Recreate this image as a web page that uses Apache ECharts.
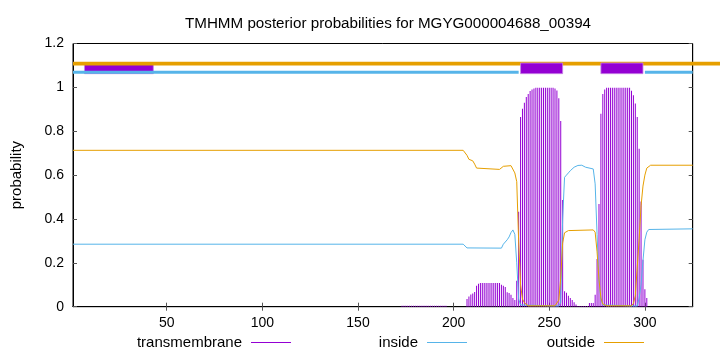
<!DOCTYPE html>
<html><head><meta charset="utf-8">
<script src="https://cdn.jsdelivr.net/npm/echarts@6/dist/echarts.min.js"></script>
<style>html,body{margin:0;padding:0;background:#fff}#c{width:720px;height:352px}</style>
</head><body><div id="c"></div>
<script>
// ---- data ----
const titleText = 'TMHMM posterior probabilities for MGYG000004688_00394';
const xTicks = [50, 100, 150, 200, 250, 300];
const seqStart = 1, seqEnd = 325;

// transmembrane posterior (impulses), one value per residue starting at tmStart
const tmStart = 173;
const tmValues = [
  0.004,0.004,0.004,0.004,0.004,0.004,0.004,0.004,0.004,0.004,0.004,0.004,
  0.004,0.004,0.004,0.004,0.004,0.004,0.004,0.004,0.004,0.004,0.004,0.004,
  0,0,0,0,0,0,0,0,0,0,
  0.035,0.047,0.056,0.06,0.067,0.095,0.105,
  0.108,0.108,0.108,0.108,0.108,0.108,0.108,0.108,0.108,0.108,0.108,
  0.1,0.095,0.09,0.066,0.062,0.055,0.04,0.03,0.118,
  0.433,0.865,0.903,0.93,0.956,0.97,0.983,0.99,0.995,
  0.998,0.998,0.998,0.998,0.998,0.998,0.998,0.998,0.998,0.998,
  0.995,0.986,0.95,0.847,0.486,0.07,0.064,0.05,0.04,0.03,0.02,0.01,
  0.003,0.003,0.003,0.003,0.003,0.003,
  0.017,0.017,0.017,0.055,0.217,0.468,0.88,0.97,0.99,
  0.998,0.998,0.998,0.998,0.998,0.998,0.998,0.998,0.998,0.998,0.998,0.998,0.998,
  0.985,0.964,0.926,0.865,0.72,0.48,0.214,0.08,0.04
];

// inside posterior (line breakpoints [residue, p])
const insideCurve = [
  [1,0.285],[205,0.285],[206,0.279],[207,0.268],[208,0.267],[225,0.267],[226,0.285],
  [227,0.292],[228,0.305],[229,0.318],[230,0.338],[231,0.35],[232,0.33],[233,0.2],
  [234,0.035],[235,0.008],[236,0.003],[255,0.003],[256,0.02],[257,0.4],[258,0.59],
  [259,0.6],[260,0.61],[261,0.62],[262,0.628],[263,0.636],[264,0.641],[265,0.644],
  [267,0.645],[268,0.642],[269,0.636],[270,0.633],[273,0.628],[274,0.56],[275,0.33],
  [276,0.12],[277,0.035],[278,0.008],[279,0.003],[296,0.003],[297,0.04],[298,0.1],
  [299,0.21],[300,0.305],[301,0.34],[302,0.352],[303,0.355],[325,0.355]
];

// outside posterior (line breakpoints [residue, p])
const outsideCurve = [
  [1,0.713],[205,0.713],[206,0.708],[207,0.69],[208,0.672],[209,0.668],[210,0.665],
  [211,0.65],[212,0.632],[213,0.626],[224,0.626],[225,0.632],[226,0.64],[227,0.643],
  [230,0.643],[231,0.64],[232,0.61],[233,0.57],[234,0.3],[235,0.1],[236,0.035],
  [237,0.018],[238,0.01],[239,0.004],[253,0.004],[254,0.008],[255,0.03],[256,0.13],
  [257,0.29],[258,0.337],[259,0.342],[260,0.347],[261,0.35],[273,0.35],[274,0.34],
  [275,0.25],[276,0.125],[277,0.04],[278,0.012],[279,0.006],[280,0.004],[293,0.004],
  [294,0.015],[295,0.05],[296,0.18],[297,0.31],[298,0.46],[299,0.55],[300,0.6],
  [301,0.632],[302,0.641],[303,0.645],[325,0.645]
];

// predicted topology drawn above the curves
const tmBoxes = [[7, 43], [235, 257], [277, 299]];
const insideRuns = [[1, 234], [300, 325]];
const outsideRuns = [[1, 340]];
const boxLevels = [1.0625, 1.111];
const insideLevel = 1.069;
const outsideLevel = 1.108;

// ---- chart ----
const PURPLE = '#9400d3', BLUE = '#56b4e9', ORANGE = '#e69f00';
const FONT = 'Liberation Sans';

const tmData = tmValues.map((v, i) => [tmStart + i, v]);
// topology items: [x0, x1, kind, layer]  kind 0 box, 1 outside, 2 inside
const topo = [];
topo.push([tmBoxes[0][0], tmBoxes[0][1], 0, 1]);
outsideRuns.forEach(r => topo.push([r[0], r[1], 1, 2]));
insideRuns.forEach(r => topo.push([r[0], r[1], 2, 2]));
tmBoxes.slice(1).forEach(r => topo.push([r[0], r[1], 0, 3]));

const chart = echarts.init(document.getElementById('c'));
const gridBox = {left: 73, right: 27.3, top: 43.5, bottom: 45.3};
const tickStyle = {show: true, inside: true, length: 4, lineStyle: {color: '#555', width: 1}};

chart.setOption({
  animation: false,
  backgroundColor: '#fff',
  textStyle: {fontFamily: FONT},
  title: {
    text: titleText, left: 383, top: 11, textAlign: 'center',
    textStyle: {fontFamily: FONT, fontSize: 15.2, fontWeight: 'normal', color: '#000'}
  },
  legend: [
    {data: ['transmembrane'], right: 720 - 291, top: 335},
    {data: ['inside'], right: 720 - 467, top: 335},
    {data: ['outside'], right: 720 - 644, top: 335}
  ].map(l => Object.assign(l, {
    orient: 'horizontal', align: 'right', padding: 0, itemWidth: 40, itemHeight: 1,
    icon: 'rect', selectedMode: false,
    textStyle: {fontFamily: FONT, fontSize: 15, color: '#000', padding: [0, 4, 0, 0]}
  })),
  grid: Object.assign({show: true, borderColor: '#000', borderWidth: 1, backgroundColor: 'transparent'}, gridBox),
  xAxis: [
    {type: 'value', min: seqStart, max: seqEnd, position: 'bottom',
     axisLine: {show: true, lineStyle: {color: '#000'}},
     axisTick: Object.assign({customValues: xTicks}, tickStyle),
     axisLabel: {customValues: xTicks, color: '#000', fontSize: 14, margin: 9, fontFamily: FONT},
     splitLine: {show: false}},
    {type: 'value', min: seqStart, max: seqEnd, position: 'top',
     axisLine: {show: true, lineStyle: {color: '#000'}},
     axisTick: Object.assign({customValues: xTicks}, tickStyle),
     axisLabel: {show: false}, splitLine: {show: false}}
  ],
  yAxis: [
    {type: 'value', min: 0, max: 1.2, interval: 0.2, position: 'left',
     name: 'probability', nameLocation: 'middle', nameGap: 49,
     nameTextStyle: {fontFamily: FONT, fontSize: 15, color: '#000'},
     axisLine: {show: true, lineStyle: {color: '#000'}},
     axisTick: tickStyle,
     axisLabel: {color: '#000', fontSize: 14, margin: 9, fontFamily: FONT},
     splitLine: {show: false}},
    {type: 'value', min: 0, max: 1.2, interval: 0.2, position: 'right',
     axisLine: {show: true, lineStyle: {color: '#000'}},
     axisTick: tickStyle, axisLabel: {show: false}, splitLine: {show: false}}
  ],
  series: [
    {name: 'transmembrane', type: 'bar', data: tmData, barWidth: 1,
     itemStyle: {color: PURPLE}, z: 2, large: false},
    {name: 'inside', type: 'line', data: insideCurve, showSymbol: false, symbol: 'none',
     lineStyle: {color: BLUE, width: 1}, itemStyle: {color: BLUE}, z: 3},
    {name: 'outside', type: 'line', data: outsideCurve, showSymbol: false, symbol: 'none',
     lineStyle: {color: ORANGE, width: 1}, itemStyle: {color: ORANGE}, z: 3},
    {type: 'custom', data: topo, clip: false, z: 4, silent: true,
     renderItem: function (params, api) {
       const x0 = api.value(0), x1 = api.value(1), kind = api.value(2), layer = api.value(3);
       if (kind === 0) {
         const a = api.coord([x0, boxLevels[1]]);
         const b = api.coord([x1, boxLevels[0]]);
         return {type: 'rect', z2: layer,
           shape: {x: a[0], y: a[1], width: b[0] - a[0], height: b[1] - a[1]},
           style: {fill: PURPLE, stroke: '#c784e6', lineWidth: 0.8}};
       }
       const lvl = kind === 1 ? outsideLevel : insideLevel;
       const a = api.coord([x0, lvl]);
       const b = api.coord([x1, lvl]);
       return {type: 'line', z2: layer,
         shape: {x1: a[0], y1: a[1], x2: b[0], y2: b[1]},
         style: {stroke: kind === 1 ? ORANGE : BLUE, lineWidth: kind === 1 ? 3.7 : 2.8}};
     }}
  ]
});
</script>
</body></html>
